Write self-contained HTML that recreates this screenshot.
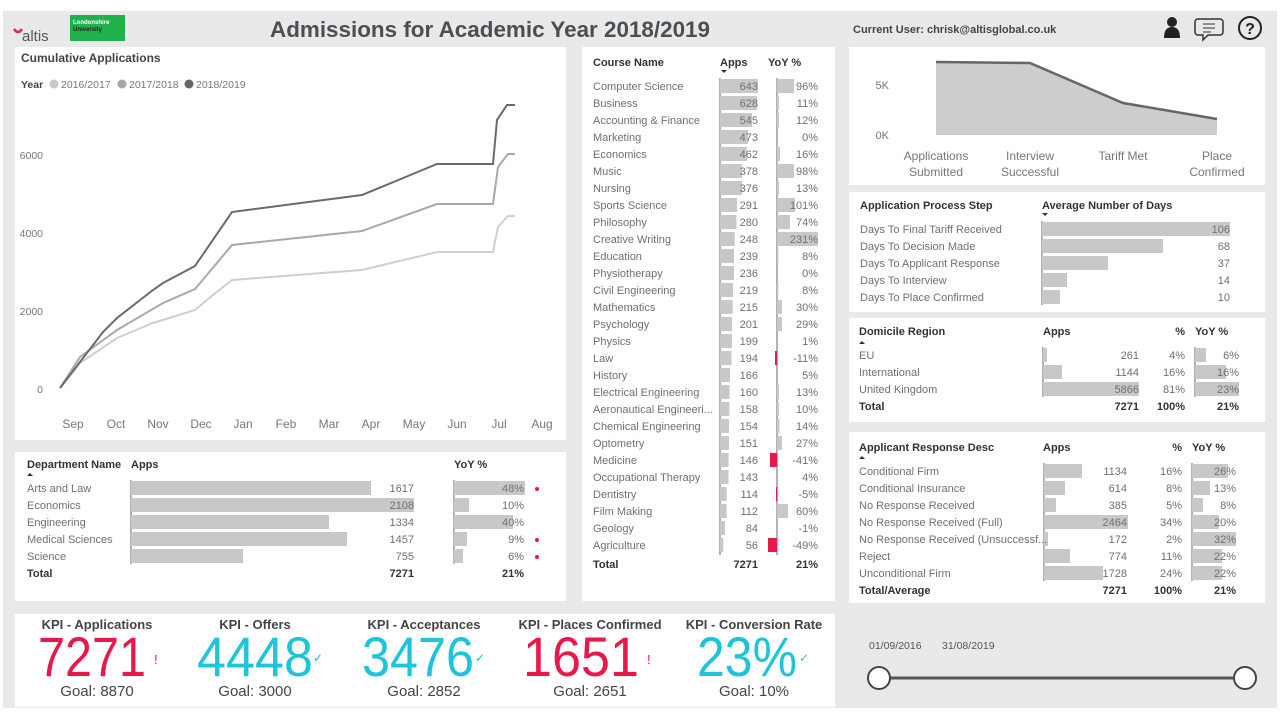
<!DOCTYPE html>
<html><head><meta charset="utf-8"><style>
body{margin:0;background:#fff;}
svg{display:block;font-family:"Liberation Sans",sans-serif;}
.r{font-size:11px;fill:#707070;}
.h{font-size:11px;fill:#333;font-weight:bold;}
.b{fill:#c8c8c8;}
.ax{stroke:#666;stroke-width:1;}
.k{font-size:13px;font-weight:bold;fill:#444;text-anchor:middle;}
.g{font-size:15px;fill:#444;text-anchor:middle;}
.n{font-size:56px;}
</style></head><body>
<svg width="1280" height="720" viewBox="0 0 1280 720">
<rect x="3" y="11" width="1274" height="697" fill="#e9e9e9"/>
<!-- header -->
<text x="22" y="41" font-size="15" fill="#555">altis</text>
<path d="M14 29 q4 6 8 0" stroke="#e0245e" stroke-width="2.5" fill="none"/>
<rect x="70" y="15" width="55" height="26" fill="#1fb14c"/>
<text x="73" y="24" font-size="6" fill="#fff" font-weight="bold">Londonshire</text>
<text x="73" y="31" font-size="6" fill="#222" font-weight="bold">University</text>
<text x="490" y="37" font-size="22.5" font-weight="bold" fill="#4a4f55" text-anchor="middle" textLength="440" lengthAdjust="spacingAndGlyphs">Admissions for Academic Year 2018/2019</text>
<text x="853" y="33" font-size="11" font-weight="bold" fill="#444">Current User: chrisk@altisglobal.co.uk</text>
<circle cx="1172" cy="22" r="5" fill="#222"/><path d="M1164 38 q0 -11 8 -11 q8 0 8 11z" fill="#222"/>
<path d="M1198 19 h22 a3 3 0 0 1 3 3 v10 a3 3 0 0 1 -3 3 h-12 l-5 5 v-5 h-5 a3 3 0 0 1 -3 -3 v-10 a3 3 0 0 1 3 -3z" fill="none" stroke="#333" stroke-width="1.5"/>
<path d="M1203 24h12M1203 28h12M1203 32h8" stroke="#333"/>
<circle cx="1250" cy="28" r="11" fill="none" stroke="#222" stroke-width="2"/>
<text x="1250" y="34" font-size="16" font-weight="bold" text-anchor="middle" fill="#222">?</text>

<!-- panels -->
<rect x="15" y="47" width="551" height="393" fill="#fff"/>
<rect x="15" y="452" width="551" height="149" fill="#fff"/>
<rect x="582" y="47" width="253" height="554" fill="#fff"/>
<rect x="849" y="47" width="416" height="138" fill="#fff"/>
<rect x="849" y="192" width="416" height="120" fill="#fff"/>
<rect x="849" y="318" width="416" height="104" fill="#fff"/>
<rect x="849" y="432" width="416" height="171" fill="#fff"/>
<rect x="15" y="614" width="820" height="93" fill="#fff"/>

<!-- line chart -->
<text x="21" y="62" font-size="12" font-weight="bold" fill="#444">Cumulative Applications</text>
<text x="21" y="88" font-size="10.5" font-weight="bold" fill="#444">Year</text>
<circle cx="54" cy="84" r="4.5" fill="#c8c8c8"/><text x="61" y="88" font-size="10.5" fill="#777">2016/2017</text>
<circle cx="122" cy="84" r="4.5" fill="#a8a8a8"/><text x="129" y="88" font-size="10.5" fill="#777">2017/2018</text>
<circle cx="189" cy="84" r="4.5" fill="#666"/><text x="196" y="88" font-size="10.5" fill="#777">2018/2019</text>
<g font-size="10.5" fill="#777" text-anchor="end">
<text x="43" y="159">6000</text><text x="43" y="237">4000</text><text x="43" y="315">2000</text><text x="43" y="393">0</text>
</g>
<g font-size="12" fill="#777" text-anchor="middle">
<text x="73" y="428">Sep</text><text x="116" y="428">Oct</text><text x="158" y="428">Nov</text><text x="201" y="428">Dec</text><text x="243" y="428">Jan</text><text x="286" y="428">Feb</text><text x="329" y="428">Mar</text><text x="371" y="428">Apr</text><text x="414" y="428">May</text><text x="457" y="428">Jun</text><text x="499" y="428">Jul</text><text x="542" y="428">Aug</text>
</g>
<polyline fill="none" stroke="#cfcfcf" stroke-width="2" points="60,388 80,363 117,338 153,323 195,310 213,295 232,280 362,270 437,252 493,252 498,227 508,216 515,216"/>
<polyline fill="none" stroke="#a9a9a9" stroke-width="2" points="60,388 80,357 117,330 163,303 195,289 232,245 362,231 437,204 493,204 498,167 508,154 515,154"/>
<polyline fill="none" stroke="#6a6a6a" stroke-width="2" points="60,388 103,332 117,318 153,290 163,283 195,266 232,212 362,195 437,164 493,164 497,120 507,105 515,105"/>

<!-- dept -->
<text x="27" y="468" class="h">Department Name</text><text x="131" y="468" class="h">Apps</text><text x="454" y="468" class="h">YoY %</text>
<path d="M27 476 l3 -3 l3 3z" fill="#333"/>
<line x1="131" y1="480" x2="131" y2="564" class="ax"/><line x1="454" y1="480" x2="454" y2="564" class="ax"/>
<g>
<rect x="131" y="481" width="240" height="14" class="b"/><rect x="454" y="481" width="71" height="14" class="b"/>
<rect x="131" y="498" width="283" height="14" class="b"/><rect x="454" y="498" width="15" height="14" class="b"/>
<rect x="131" y="515" width="198" height="14" class="b"/><rect x="454" y="515" width="59" height="14" class="b"/>
<rect x="131" y="532" width="216" height="14" class="b"/><rect x="454" y="532" width="13" height="14" class="b"/>
<rect x="131" y="549" width="112" height="14" class="b"/><rect x="454" y="549" width="9" height="14" class="b"/>
</g>
<g class="r"><text x="27" y="492">Arts and Law</text><text x="27" y="509">Economics</text><text x="27" y="526">Engineering</text><text x="27" y="543">Medical Sciences</text><text x="27" y="560">Science</text></g>
<g class="r" text-anchor="end"><text x="414" y="492">1617</text><text x="414" y="509">2108</text><text x="414" y="526">1334</text><text x="414" y="543">1457</text><text x="414" y="560">755</text>
<text x="524" y="492">48%</text><text x="524" y="509">10%</text><text x="524" y="526">40%</text><text x="524" y="543">9%</text><text x="524" y="560">6%</text></g>
<circle cx="537" cy="489" r="2" fill="#e8193c"/><circle cx="537" cy="540" r="2" fill="#e8193c"/><circle cx="537" cy="557" r="2" fill="#e8193c"/>
<text x="27" y="577" class="h">Total</text><text x="414" y="577" class="h" text-anchor="end">7271</text><text x="524" y="577" class="h" text-anchor="end">21%</text>

<!-- course -->
<text x="593" y="66" class="h">Course Name</text><text x="720" y="66" class="h">Apps</text><text x="768" y="66" class="h">YoY %</text>
<path d="M721 70 l3 3 l3 -3z" fill="#333"/>
<line x1="720" y1="78" x2="720" y2="555" class="ax"/><line x1="777" y1="78" x2="777" y2="555" class="ax"/>
<g class="b">
<rect x="720" y="79" width="38" height="14"/><rect x="720" y="96" width="37" height="14"/><rect x="720" y="113" width="32" height="14"/><rect x="720" y="130" width="28" height="14"/><rect x="720" y="147" width="27" height="14"/><rect x="720" y="164" width="22" height="14"/><rect x="720" y="181" width="22" height="14"/><rect x="720" y="198" width="17" height="14"/><rect x="720" y="215" width="16.5" height="14"/><rect x="720" y="232" width="14.7" height="14"/><rect x="720" y="249" width="14" height="14"/><rect x="720" y="266" width="14" height="14"/><rect x="720" y="283" width="13" height="14"/><rect x="720" y="300" width="12.7" height="14"/><rect x="720" y="317" width="12" height="14"/><rect x="720" y="334" width="12" height="14"/><rect x="720" y="351" width="11.5" height="14"/><rect x="720" y="368" width="10" height="14"/><rect x="720" y="385" width="9.5" height="14"/><rect x="720" y="402" width="9.3" height="14"/><rect x="720" y="419" width="9" height="14"/><rect x="720" y="436" width="9" height="14"/><rect x="720" y="453" width="8.6" height="14"/><rect x="720" y="470" width="8.5" height="14"/><rect x="720" y="487" width="6.7" height="14"/><rect x="720" y="504" width="6.6" height="14"/><rect x="720" y="521" width="5" height="14"/><rect x="720" y="538" width="3.3" height="14"/>
<rect x="777" y="79" width="17" height="14"/><rect x="777" y="96" width="2" height="14"/><rect x="777" y="113" width="2" height="14"/><rect x="777" y="147" width="3" height="14"/><rect x="777" y="164" width="17" height="14"/><rect x="777" y="181" width="2" height="14"/><rect x="777" y="198" width="18" height="14"/><rect x="777" y="215" width="13" height="14"/><rect x="777" y="232" width="41" height="14"/><rect x="777" y="249" width="1.4" height="14"/><rect x="777" y="283" width="1.4" height="14"/><rect x="777" y="300" width="5" height="14"/><rect x="777" y="317" width="5" height="14"/><rect x="777" y="385" width="2" height="14"/><rect x="777" y="402" width="2" height="14"/><rect x="777" y="419" width="2.5" height="14"/><rect x="777" y="436" width="5" height="14"/><rect x="777" y="504" width="11" height="14"/>
</g>
<g fill="#e8194a"><rect x="775" y="351" width="2" height="14"/><rect x="770" y="453" width="7" height="14"/><rect x="776" y="487" width="1" height="14"/><rect x="768" y="538" width="9" height="14"/></g>
<g class="r">
<text x="593" y="90">Computer Science</text><text x="593" y="107">Business</text><text x="593" y="124">Accounting &amp; Finance</text><text x="593" y="141">Marketing</text><text x="593" y="158">Economics</text><text x="593" y="175">Music</text><text x="593" y="192">Nursing</text><text x="593" y="209">Sports Science</text><text x="593" y="226">Philosophy</text><text x="593" y="243">Creative Writing</text><text x="593" y="260">Education</text><text x="593" y="277">Physiotherapy</text><text x="593" y="294">Civil Engineering</text><text x="593" y="311">Mathematics</text><text x="593" y="328">Psychology</text><text x="593" y="345">Physics</text><text x="593" y="362">Law</text><text x="593" y="379">History</text><text x="593" y="396">Electrical Engineering</text><text x="593" y="413">Aeronautical Engineeri...</text><text x="593" y="430">Chemical Engineering</text><text x="593" y="447">Optometry</text><text x="593" y="464">Medicine</text><text x="593" y="481">Occupational Therapy</text><text x="593" y="498">Dentistry</text><text x="593" y="515">Film Making</text><text x="593" y="532">Geology</text><text x="593" y="549">Agriculture</text>
</g>
<g class="r" text-anchor="end">
<text x="758" y="90">643</text><text x="758" y="107">628</text><text x="758" y="124">545</text><text x="758" y="141">473</text><text x="758" y="158">462</text><text x="758" y="175">378</text><text x="758" y="192">376</text><text x="758" y="209">291</text><text x="758" y="226">280</text><text x="758" y="243">248</text><text x="758" y="260">239</text><text x="758" y="277">236</text><text x="758" y="294">219</text><text x="758" y="311">215</text><text x="758" y="328">201</text><text x="758" y="345">199</text><text x="758" y="362">194</text><text x="758" y="379">166</text><text x="758" y="396">160</text><text x="758" y="413">158</text><text x="758" y="430">154</text><text x="758" y="447">151</text><text x="758" y="464">146</text><text x="758" y="481">143</text><text x="758" y="498">114</text><text x="758" y="515">112</text><text x="758" y="532">84</text><text x="758" y="549">56</text>
<text x="818" y="90">96%</text><text x="818" y="107">11%</text><text x="818" y="124">12%</text><text x="818" y="141">0%</text><text x="818" y="158">16%</text><text x="818" y="175">98%</text><text x="818" y="192">13%</text><text x="818" y="209">101%</text><text x="818" y="226">74%</text><text x="818" y="243">231%</text><text x="818" y="260">8%</text><text x="818" y="277">0%</text><text x="818" y="294">8%</text><text x="818" y="311">30%</text><text x="818" y="328">29%</text><text x="818" y="345">1%</text><text x="818" y="362">-11%</text><text x="818" y="379">5%</text><text x="818" y="396">13%</text><text x="818" y="413">10%</text><text x="818" y="430">14%</text><text x="818" y="447">27%</text><text x="818" y="464">-41%</text><text x="818" y="481">4%</text><text x="818" y="498">-5%</text><text x="818" y="515">60%</text><text x="818" y="532">-1%</text><text x="818" y="549">-49%</text>
</g>
<text x="593" y="568" class="h">Total</text><text x="758" y="568" class="h" text-anchor="end">7271</text><text x="818" y="568" class="h" text-anchor="end">21%</text>

<!-- funnel -->
<text x="889" y="89" font-size="11" fill="#777" text-anchor="end">5K</text>
<text x="889" y="139" font-size="11" fill="#777" text-anchor="end">0K</text>
<polygon points="936,63 1030,64 1123,103 1217,119 1217,135 936,135" fill="#cdcdcd"/>
<polyline points="936,62 1030,63 1123,103 1217,119" fill="none" stroke="#666" stroke-width="2.5"/>
<g font-size="12" fill="#777" text-anchor="middle">
<text x="936" y="160">Applications</text><text x="936" y="176">Submitted</text>
<text x="1030" y="160">Interview</text><text x="1030" y="176">Successful</text>
<text x="1123" y="160">Tariff Met</text>
<text x="1217" y="160">Place</text><text x="1217" y="176">Confirmed</text>
</g>

<!-- process -->
<text x="860" y="209" class="h">Application Process Step</text><text x="1042" y="209" class="h">Average Number of Days</text>
<path d="M1042 213 l3 3 l3 -3z" fill="#333"/>
<line x1="1042" y1="221" x2="1042" y2="305" class="ax"/>
<g class="b"><rect x="1042" y="222" width="188" height="14"/><rect x="1042" y="239" width="121" height="14"/><rect x="1042" y="256" width="66" height="14"/><rect x="1042" y="273" width="25" height="14"/><rect x="1042" y="290" width="18" height="14"/></g>
<g class="r"><text x="860" y="233">Days To Final Tariff Received</text><text x="860" y="250">Days To Decision Made</text><text x="860" y="267">Days To Applicant Response</text><text x="860" y="284">Days To Interview</text><text x="860" y="301">Days To Place Confirmed</text></g>
<g class="r" text-anchor="end"><text x="1230" y="233">106</text><text x="1230" y="250">68</text><text x="1230" y="267">37</text><text x="1230" y="284">14</text><text x="1230" y="301">10</text></g>

<!-- domicile -->
<text x="859" y="335" class="h">Domicile Region</text><text x="1043" y="335" class="h">Apps</text><text x="1185" y="335" class="h" text-anchor="end">%</text><text x="1195" y="335" class="h">YoY %</text>
<path d="M859 344 l3 -3 l3 3z" fill="#333"/>
<line x1="1043" y1="347" x2="1043" y2="397" class="ax"/><line x1="1195" y1="347" x2="1195" y2="397" class="ax"/>
<g class="b"><rect x="1043" y="348" width="4" height="14"/><rect x="1043" y="365" width="19" height="14"/><rect x="1043" y="382" width="96" height="14"/><rect x="1195" y="348" width="11" height="14"/><rect x="1195" y="365" width="31" height="14"/><rect x="1195" y="382" width="44" height="14"/></g>
<g class="r"><text x="859" y="359">EU</text><text x="859" y="376">International</text><text x="859" y="393">United Kingdom</text></g>
<g class="r" text-anchor="end"><text x="1139" y="359">261</text><text x="1139" y="376">1144</text><text x="1139" y="393">5866</text><text x="1185" y="359">4%</text><text x="1185" y="376">16%</text><text x="1185" y="393">81%</text><text x="1239" y="359">6%</text><text x="1239" y="376">16%</text><text x="1239" y="393">23%</text></g>
<text x="859" y="410" class="h">Total</text><text x="1139" y="410" class="h" text-anchor="end">7271</text><text x="1185" y="410" class="h" text-anchor="end">100%</text><text x="1239" y="410" class="h" text-anchor="end">21%</text>

<!-- response -->
<text x="859" y="451" class="h">Applicant Response Desc</text><text x="1043" y="451" class="h">Apps</text><text x="1182" y="451" class="h" text-anchor="end">%</text><text x="1192" y="451" class="h">YoY %</text>
<path d="M859 459 l3 -3 l3 3z" fill="#333"/>
<line x1="1044" y1="463" x2="1044" y2="581" class="ax"/><line x1="1192" y1="463" x2="1192" y2="581" class="ax"/>
<g class="b"><rect x="1044" y="464" width="38" height="14"/><rect x="1044" y="481" width="21" height="14"/><rect x="1044" y="498" width="12" height="14"/><rect x="1044" y="515" width="84" height="14"/><rect x="1044" y="532" width="4" height="14"/><rect x="1044" y="549" width="26" height="14"/><rect x="1044" y="566" width="59" height="14"/>
<rect x="1192" y="464" width="36" height="14"/><rect x="1192" y="481" width="18" height="14"/><rect x="1192" y="498" width="11" height="14"/><rect x="1192" y="515" width="27" height="14"/><rect x="1192" y="532" width="44" height="14"/><rect x="1192" y="549" width="30" height="14"/><rect x="1192" y="566" width="30" height="14"/></g>
<g class="r"><text x="859" y="475">Conditional Firm</text><text x="859" y="492">Conditional Insurance</text><text x="859" y="509">No Response Received</text><text x="859" y="526">No Response Received (Full)</text><text x="859" y="543">No Response Received (Unsuccessf...</text><text x="859" y="560">Reject</text><text x="859" y="577">Unconditional Firm</text></g>
<g class="r" text-anchor="end"><text x="1127" y="475">1134</text><text x="1127" y="492">614</text><text x="1127" y="509">385</text><text x="1127" y="526">2464</text><text x="1127" y="543">172</text><text x="1127" y="560">774</text><text x="1127" y="577">1728</text>
<text x="1182" y="475">16%</text><text x="1182" y="492">8%</text><text x="1182" y="509">5%</text><text x="1182" y="526">34%</text><text x="1182" y="543">2%</text><text x="1182" y="560">11%</text><text x="1182" y="577">24%</text>
<text x="1236" y="475">26%</text><text x="1236" y="492">13%</text><text x="1236" y="509">8%</text><text x="1236" y="526">20%</text><text x="1236" y="543">32%</text><text x="1236" y="560">22%</text><text x="1236" y="577">22%</text></g>
<text x="859" y="594" class="h">Total/Average</text><text x="1127" y="594" class="h" text-anchor="end">7271</text><text x="1182" y="594" class="h" text-anchor="end">100%</text><text x="1236" y="594" class="h" text-anchor="end">21%</text>

<!-- KPIs -->
<text x="97" y="629" class="k">KPI - Applications</text><text x="255" y="629" class="k">KPI - Offers</text><text x="424" y="629" class="k">KPI - Acceptances</text><text x="590" y="629" class="k">KPI - Places Confirmed</text><text x="754" y="629" class="k">KPI - Conversion Rate</text>
<text x="38" y="676" class="n" fill="#e8194a" textLength="108" lengthAdjust="spacingAndGlyphs">7271</text><text x="154" y="664" font-size="13" fill="#e8194a">!</text>
<text x="197" y="676" class="n" fill="#1ec3dc" textLength="116" lengthAdjust="spacingAndGlyphs">4448</text><text x="313" y="662" font-size="12" fill="#1ec3dc">✓</text>
<text x="362" y="676" class="n" fill="#1ec3dc" textLength="112" lengthAdjust="spacingAndGlyphs">3476</text><text x="475" y="662" font-size="12" fill="#1ec3dc">✓</text>
<text x="523" y="676" class="n" fill="#e8194a" textLength="116" lengthAdjust="spacingAndGlyphs">1651</text><text x="647" y="664" font-size="13" fill="#e8194a">!</text>
<text x="697" y="676" class="n" fill="#1ec3dc" textLength="100" lengthAdjust="spacingAndGlyphs">23%</text><text x="799" y="662" font-size="12" fill="#1ec3dc">✓</text>
<text x="97" y="696" class="g">Goal: 8870</text><text x="255" y="696" class="g">Goal: 3000</text><text x="424" y="696" class="g">Goal: 2852</text><text x="590" y="696" class="g">Goal: 2651</text><text x="754" y="696" class="g">Goal: 10%</text>

<!-- slider -->
<text x="869" y="649" font-size="10.5" fill="#555">01/09/2016</text><text x="942" y="649" font-size="10.5" fill="#555">31/08/2019</text>
<line x1="879" y1="678" x2="1245" y2="678" stroke="#555" stroke-width="3"/>
<circle cx="879" cy="678" r="11" fill="#fff" stroke="#444" stroke-width="2"/>
<circle cx="1245" cy="678" r="11" fill="#fff" stroke="#444" stroke-width="2"/>
</svg>
</body></html>
